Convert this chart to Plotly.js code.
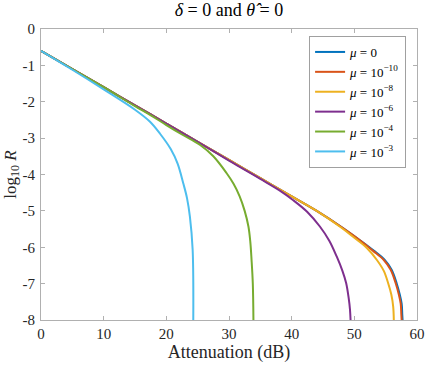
<!DOCTYPE html>
<html>
<head>
<meta charset="utf-8">
<script src="https://cdn.plot.ly/plotly-3.0.1.min.js"></script>
<style>
  body { margin: 0; background: #fff; }
</style>
</head>
<body>
<div id="chart"></div>
<script>
// Values (attenuation in dB, log10 R)
const seriesNames = ['μ = 0', 'μ = 10<sup>−10</sup>', 'μ = 10<sup>−8</sup>',
                     'μ = 10<sup>−6</sup>', 'μ = 10<sup>−4</sup>', 'μ = 10<sup>−3</sup>'];
const seriesColors = ['#0072BD', '#D95319', '#EDB120', '#7E2F8E', '#77AC30', '#4DBEEE'];

const muZeroX = [0, 5, 10, 15, 20, 25, 30, 35, 40, 44, 48, 51, 53.15, 54.85, 55.95, 56.75, 57.25, 57.55, 57.65, 57.7];
const muZeroY = [-0.6, -1.1, -1.6, -2.1, -2.6, -3.1, -3.6, -4.1, -4.6, -5.0, -5.45, -5.82, -6.1, -6.35, -6.62, -6.99, -7.3, -7.55, -7.85, -8];

const mu10X = [0, 5, 10, 15, 20, 25, 30, 35, 40, 44, 48, 51, 53, 54.7, 55.8, 56.6, 57.1, 57.4, 57.5, 57.55];
const mu10Y = [-0.6, -1.1, -1.6, -2.1, -2.6, -3.1, -3.6, -4.1, -4.6, -5.0, -5.45, -5.82, -6.1, -6.35, -6.62, -6.99, -7.3, -7.55, -7.85, -8];

const mu8X = [0, 5, 10, 15, 20, 25, 30, 35, 40, 44, 48, 50, 52, 53.6, 54.7, 55.4, 55.9, 56.2, 56.3];
const mu8Y = [-0.6, -1.1, -1.6, -2.1, -2.6, -3.1, -3.6, -4.1, -4.6, -5.0, -5.47, -5.74, -6.02, -6.35, -6.65, -6.99, -7.3, -7.63, -8];

const mu6X = [0, 5, 10, 15, 20, 25, 30, 35, 38, 40.2, 42.5, 44.5, 46, 47.2, 48.1, 48.7, 49.1, 49.3, 49.4];
const mu6Y = [-0.6, -1.1, -1.6, -2.1, -2.6, -3.1, -3.62, -4.12, -4.43, -4.7, -5.03, -5.43, -5.82, -6.26, -6.65, -6.99, -7.4, -7.7, -8];

const mu4X = [0, 5, 10, 15, 17.4, 20, 22.5, 25.4, 27.5, 29.6, 30.7, 31.7, 32.5, 33.1, 33.4, 33.6, 33.8, 33.9];
const mu4Y = [-0.6, -1.1, -1.6, -2.12, -2.36, -2.64, -2.9, -3.19, -3.5, -3.96, -4.25, -4.6, -5.0, -5.43, -5.85, -6.35, -7.0, -8];

const mu3X = [0, 5, 10, 15, 17.4, 19, 20.7, 21.8, 22.7, 23.3, 23.76, 24.2, 24.3];
const mu3Y = [-0.6, -1.12, -1.66, -2.22, -2.55, -2.88, -3.3, -3.7, -4.24, -4.65, -5.16, -6.07, -8];

const xTicks = [0, 10, 20, 30, 40, 50, 60];
const yTicks = [0, -1, -2, -3, -4, -5, -6, -7, -8];
const yTickLabels = ['0', '-1', '-2', '-3', '-4', '-5', '-6', '-7', '-8'];

const serifFont = 'Liberation Serif';

const xs = [muZeroX, mu10X, mu8X, mu6X, mu4X, mu3X];
const ys = [muZeroY, mu10Y, mu8Y, mu6Y, mu4Y, mu3Y];

const traces = xs.map((x, i) => ({
    x: x,
    y: ys[i],
    type: 'scatter',
    mode: 'lines',
    name: '<i>μ</i>' + seriesNames[i].slice(1),
    line: { color: seriesColors[i], width: 2, shape: 'spline', smoothing: 1 }
}));

const axisCommon = {
    showgrid: false,
    zeroline: false,
    showline: true,
    linecolor: '#b0b0b0',
    linewidth: 1,
    mirror: 'ticks',
    ticks: 'inside',
    ticklen: 4,
    tickcolor: '#b0b0b0',
    tickfont: { family: serifFont, size: 15, color: '#262626' }
};

const layout = {
    width: 428,
    height: 366,
    margin: { l: 41, r: 11, t: 29, b: 46 },
    paper_bgcolor: '#fff',
    plot_bgcolor: '#fff',
    font: { family: serifFont, color: '#262626' },
    title: {
        text: '<i>δ</i> = 0 and <i>θ̂</i> = 0',
        font: { family: serifFont, size: 18, color: '#000' },
        x: 0.535, xanchor: 'center',
        y: 0.99, yanchor: 'top'
    },
    xaxis: Object.assign({}, axisCommon, {
        range: [0, 60],
        tickvals: xTicks,
        title: { text: 'Attenuation (dB)', font: { family: serifFont, size: 18, color: '#262626' }, standoff: 2 }
    }),
    yaxis: Object.assign({}, axisCommon, {
        range: [-8, 0],
        tickvals: yTicks,
        ticktext: yTickLabels,
        ticklabelstandoff: 2,
        title: { text: 'log<sub>10</sub> <i>R</i>', font: { family: serifFont, size: 17, color: '#262626' }, standoff: 0 }
    }),
    showlegend: true,
    legend: {
        x: 0.713, xanchor: 'left',
        y: 0.976, yanchor: 'top',
        bgcolor: '#fff',
        bordercolor: '#a0a0a0',
        borderwidth: 1,
        font: { family: serifFont, size: 13, color: '#000' },
        tracegroupgap: 0,
        itemwidth: 30
    }
};

Plotly.newPlot('chart', traces, layout, { displayModeBar: false });
</script>
</body>
</html>
